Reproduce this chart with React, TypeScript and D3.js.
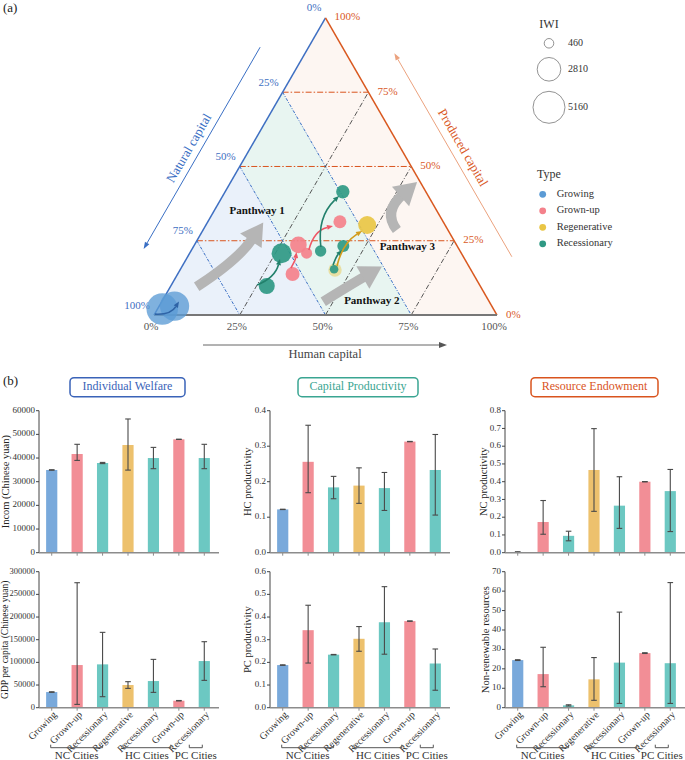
import * as d3 from "d3";

const FONT = "'Liberation Serif', 'Times New Roman', serif";

// ---- city types ----
const TYPES = ["Growing", "Grown-up", "Regenerative", "Recessionary"];
const TYPE_COLORS: Record<string, string> = {
  Growing: "#5b9bd5",
  "Grown-up": "#f4818b",
  Regenerative: "#e9c545",
  Recessionary: "#2f9984",
};
const ARROW_COLORS: Record<string, string> = {
  Growing: "#2e63a6",
  "Grown-up": "#ef5766",
  Regenerative: "#d29c1c",
  Recessionary: "#22806c",
};
const BAR_COLORS: Record<string, string> = {
  Growing: "#79a9db",
  "Grown-up": "#f28e96",
  Regenerative: "#edc16d",
  Recessionary: "#6cc8c2",
};

// ---- ternary (a) ----
const TERNARY_TICKS = [0, 0.25, 0.5, 0.75, 1];
const IWI_LEGEND = [460, 2810, 5160];

// city clusters: human capital share, produced capital share, IWI
const NODE_TYPE = [
  "Growing", "Growing", "Recessionary", "Recessionary", "Grown-up", "Grown-up", "Grown-up",
  "Grown-up", "Recessionary", "Recessionary", "Regenerative", "Recessionary", "Recessionary", "Regenerative",
];
const NODE_HC = [0.014, 0.045, 0.28, 0.268, 0.335, 0.303, 0.341, 0.385, 0.378, 0.343, 0.452, 0.448, 0.436, 0.47];
const NODE_PC = [0.02, 0.03, 0.0976, 0.208, 0.138, 0.236, 0.208, 0.314, 0.2155, 0.415, 0.1515, 0.154, 0.232, 0.303];
const NODE_IWI = [5000, 4300, 1290, 2010, 985, 1385, 610, 850, 650, 900, 900, 370, 725, 1630];
const FADED_NODES = new Set([10]);

// trajectories between periods
const TRAJ_TYPE = ["Growing", "Recessionary", "Grown-up", "Grown-up", "Recessionary", "Recessionary", "Regenerative"];
const TRAJ_FROM_HC = [0.001, 0.25, 0.32, 0.342, 0.372, 0.438, 0.451];
const TRAJ_FROM_PC = [0.003, 0.101, 0.158, 0.219, 0.229, 0.168, 0.165];
const TRAJ_TO_HC = [0.05, 0.273, 0.3095, 0.372, 0.339, 0.439, 0.465];
const TRAJ_TO_PC = [0.0455, 0.1886, 0.212, 0.2997, 0.4007, 0.219, 0.283];
const TRAJ_BEND = [0.3, 0.25, 0.1, -0.3, -0.25, -0.1, -0.2];

// development pathways (tail, control, tip) as [HC, PC]
const PATHWAYS = ["Panthway 1", "Panthway 2", "Panthway 3"];
const PATHWAY_TAIL = [[0.077, 0.095], [0.471, 0.045], [0.565, 0.286]];
const PATHWAY_CTRL = [[0.152, 0.185], [0.521, 0.101], [0.494, 0.347]];
const PATHWAY_TIP = [[0.163, 0.311], [0.583, 0.163], [0.543, 0.448]];
const PATHWAY_LABEL = [[0.127, 0.347], [0.613, 0.044], [0.624, 0.229]];

// ---- bars (b) ----
const BAR_CATS = ["Growing", "Grown-up", "Recessionary", "Regenerative", "Recessionary", "Grown-up", "Recessionary"];
const CITY_GROUPS = ["NC Cities", "HC Cities", "PC Cities"];
const GROUP_FIRST = [0, 3, 6];
const GROUP_LAST = [2, 5, 6];

const INCOME_MEAN = [34950, 41700, 37900, 45500, 40000, 47900, 40000];
const INCOME_LO = [34850, 39000, 37650, 34900, 35500, 47850, 35500];
const INCOME_HI = [35050, 45800, 38150, 56500, 44500, 47950, 45800];

const GDP_MEAN = [34500, 94100, 95600, 50000, 58800, 15400, 102900];
const GDP_LO = [33900, 7300, 24300, 42600, 33800, 14900, 60300];
const GDP_HI = [35100, 275700, 166200, 57400, 106600, 15900, 145600];

const HC_MEAN = [0.122, 0.256, 0.184, 0.189, 0.182, 0.313, 0.233];
const HC_LO = [0.1215, 0.169, 0.152, 0.139, 0.119, 0.3125, 0.106];
const HC_HI = [0.1225, 0.359, 0.215, 0.239, 0.226, 0.3135, 0.333];

const PC_MEAN = [0.188, 0.342, 0.234, 0.304, 0.377, 0.382, 0.195];
const PC_LO = [0.187, 0.197, 0.233, 0.249, 0.236, 0.381, 0.077];
const PC_HI = [0.189, 0.452, 0.235, 0.358, 0.534, 0.383, 0.259];

const NC_MEAN = [0.004, 0.173, 0.095, 0.466, 0.265, 0.4, 0.347];
const NC_LO = [0.003, 0.104, 0.067, 0.233, 0.137, 0.399, 0.119];
const NC_HI = [0.005, 0.294, 0.121, 0.699, 0.428, 0.401, 0.469];

const NRR_MEAN = [24.5, 17.3, 1.2, 14.6, 23.2, 28.1, 22.9];
const NRR_LO = [24.3, 10.8, 0.9, 3.8, 2.2, 27.9, 2.2];
const NRR_HI = [24.7, 31.1, 1.5, 25.8, 49.2, 28.3, 64.4];

const PANEL_TITLES = ["Individual Welfare", "Capital Productivity", "Resource Endowment"];
const PANEL_TITLE_COLORS = ["#3a63b8", "#3aa592", "#d9541e"];

// ---- layout ----
const TRI = { x0: 154, y0: 315, side: 343 };
const H3 = Math.sqrt(3) / 2;
const proj = (h: number, p: number): [number, number] => [
  TRI.x0 + TRI.side * (h + p / 2),
  TRI.y0 - TRI.side * H3 * p,
];

const COL_X0 = [39, 270, 505];
const COL_W = 178;
const ROWS = [
  { top: 410.7, bottom: 552.7 },
  { top: 571.7, bottom: 707.7 },
];
const TITLE_BOX = [
  [70, 185],
  [298, 418],
  [531, 658],
];

const polyStr = (pts: [number, number][]) => pts.map((p) => p.join(",")).join(" ");

function arrowHead(tip: [number, number], from: [number, number], len: number, w: number) {
  const dx = tip[0] - from[0];
  const dy = tip[1] - from[1];
  const l = Math.hypot(dx, dy) || 1;
  const ux = dx / l;
  const uy = dy / l;
  const bx = tip[0] - ux * len;
  const by = tip[1] - uy * len;
  const pts: [number, number][] = [
    tip,
    [bx - (uy * w) / 2, by + (ux * w) / 2],
    [bx + (uy * w) / 2, by - (ux * w) / 2],
  ];
  return { base: [bx, by] as [number, number], pts };
}

function Ternary() {
  const r = d3.scaleSqrt().domain([0, 5160]).range([0, 16]);
  const BL = proj(0, 0);
  const BR = proj(1, 0);
  const TOP = proj(0, 1);

  const grid = [0.25, 0.5, 0.75];

  // offset line parallel to an edge
  const edgeLine = (a: [number, number], b: [number, number], nx: number, ny: number, s0: number, s1: number, off: number) => {
    const dx = (b[0] - a[0]) / TRI.side;
    const dy = (b[1] - a[1]) / TRI.side;
    return [
      [a[0] + dx * s0 + nx * off, a[1] + dy * s0 + ny * off],
      [a[0] + dx * s1 + nx * off, a[1] + dy * s1 + ny * off],
    ] as [number, number][];
  };

  const natLine = edgeLine(BL, TOP, -H3, -0.5, 285, 52, 42);
  const natLbl = edgeLine(BL, TOP, -H3, -0.5, 162, 162, 52)[0];
  const prodLine = edgeLine(BR, TOP, H3, -0.5, 43, 278, 42);
  const prodLbl = edgeLine(BR, TOP, H3, -0.5, 162, 162, 53)[0];
  const natHead = arrowHead(natLine[1], natLine[0], 7, 5);
  const prodHead = arrowHead(prodLine[1], prodLine[0], 7, 5);
  const humY = TRI.y0 + 30;
  const humX0 = TRI.x0 + 49;
  const humX1 = TRI.x0 + 293;

  return (
    <g fontFamily={FONT}>
      <text x={3} y={12} fontSize={13} fill="#222">(a)</text>

      {/* regions */}
      <polygon points={polyStr([proj(0, 0.75), TOP, BR, proj(0.75, 0)])} fill="#fdf6f2" />
      <polygon points={polyStr([proj(0, 0.5), proj(0, 0.75), proj(0.75, 0), proj(0.5, 0)])} fill="#e8f5f1" />
      <polygon points={polyStr([BL, proj(0, 0.5), proj(0.5, 0)])} fill="#eaf1fa" />

      {/* grid */}
      {grid.map((t) => {
        const a = proj(0, t);
        const b = proj(1 - t, t);
        return <line key={"p" + t} x1={a[0]} y1={a[1]} x2={b[0]} y2={b[1]} stroke="#d9541e" strokeWidth={1} strokeDasharray="6,2,1.5,2" />;
      })}
      {grid.map((t) => {
        const a = proj(0, 1 - t);
        const b = proj(1 - t, 0);
        return <line key={"n" + t} x1={a[0]} y1={a[1]} x2={b[0]} y2={b[1]} stroke="#3a6fc4" strokeWidth={1} strokeDasharray="3,1.5,1,1.5" />;
      })}
      {grid.map((t) => {
        const a = proj(t, 0);
        const b = proj(t, 1 - t);
        return <line key={"h" + t} x1={a[0]} y1={a[1]} x2={b[0]} y2={b[1]} stroke="#444" strokeWidth={0.9} strokeDasharray="5,2,1,2" />;
      })}

      {/* edges */}
      <line x1={BL[0]} y1={BL[1]} x2={TOP[0]} y2={TOP[1]} stroke="#3e6fc2" strokeWidth={1.5} />
      <line x1={BR[0]} y1={BR[1]} x2={TOP[0]} y2={TOP[1]} stroke="#d9581f" strokeWidth={1.5} />
      <line x1={BL[0]} y1={BL[1]} x2={BR[0]} y2={BR[1]} stroke="#777" strokeWidth={2} />

      {/* tick labels */}
      {TERNARY_TICKS.map((v) => {
        const [x, y] = proj(0, 1 - v);
        return (
          <text key={"nl" + v} x={x - 4} y={y - 9} fontSize={11} fill="#3e6fc2" textAnchor="end" dominantBaseline="middle">
            {Math.round(v * 100)}%
          </text>
        );
      })}
      {TERNARY_TICKS.map((v) => {
        const [x, y] = proj(1 - v, v);
        return (
          <text key={"pl" + v} x={x + 9} y={y} fontSize={11} fill="#d9581f" dominantBaseline="middle">
            {Math.round(v * 100)}%
          </text>
        );
      })}
      {TERNARY_TICKS.map((v) => {
        const [x] = proj(v, 0);
        return (
          <text key={"hl" + v} x={x - 3} y={TRI.y0 + 12} fontSize={11} fill="#555" textAnchor="middle" dominantBaseline="middle">
            {Math.round(v * 100)}%
          </text>
        );
      })}

      {/* axis titles */}
      <line x1={natLine[0][0]} y1={natLine[0][1]} x2={natHead.base[0]} y2={natHead.base[1]} stroke="#3a6fc4" strokeWidth={1} />
      <polygon points={polyStr(natHead.pts)} fill="#3a6fc4" />
      <text transform={`translate(${natLbl[0]},${natLbl[1]}) rotate(-60)`} fontSize={13} fill="#3a6fc4" textAnchor="middle" dominantBaseline="middle">
        Natural capital
      </text>
      <line x1={prodLine[0][0]} y1={prodLine[0][1]} x2={prodHead.base[0]} y2={prodHead.base[1]} stroke="#eba27e" strokeWidth={1} />
      <polygon points={polyStr(prodHead.pts)} fill="#eba27e" />
      <text transform={`translate(${prodLbl[0]},${prodLbl[1]}) rotate(60)`} fontSize={13} fill="#d9581f" textAnchor="middle" dominantBaseline="middle">
        Produced capital
      </text>
      <line x1={humX0} y1={humY} x2={humX1 - 7} y2={humY} stroke="#666" strokeWidth={1} />
      <polygon points={polyStr([[humX1, humY], [humX1 - 8, humY - 3], [humX1 - 8, humY + 3]])} fill="#555" />
      <text x={(humX0 + humX1) / 2} y={humY + 10} fontSize={12.5} fill="#444" textAnchor="middle" dominantBaseline="middle">
        Human capital
      </text>

      {/* pathway arrows */}
      {PATHWAYS.map((name, i) => {
        const tail = proj(PATHWAY_TAIL[i][0], PATHWAY_TAIL[i][1]);
        const ctrl = proj(PATHWAY_CTRL[i][0], PATHWAY_CTRL[i][1]);
        const tip = proj(PATHWAY_TIP[i][0], PATHWAY_TIP[i][1]);
        const head = arrowHead(tip, ctrl, 22, 26);
        const p = d3.path();
        p.moveTo(tail[0], tail[1]);
        p.quadraticCurveTo(ctrl[0], ctrl[1], head.base[0] + (tip[0] - head.base[0]) * 0.1, head.base[1] + (tip[1] - head.base[1]) * 0.1);
        return (
          <g key={name}>
            <path d={p.toString()} fill="none" stroke="#b5b5b5" strokeWidth={10} />
            <polygon points={polyStr(head.pts)} fill="#b5b5b5" />
          </g>
        );
      })}

      {/* city bubbles */}
      {NODE_TYPE.map((t, i) => {
        const [x, y] = proj(NODE_HC[i], NODE_PC[i]);
        return (
          <circle
            key={"n" + i}
            cx={x}
            cy={y}
            r={r(NODE_IWI[i])}
            fill={TYPE_COLORS[t]}
            fillOpacity={FADED_NODES.has(i) ? 0.45 : t === "Growing" ? 0.78 : 0.92}
          />
        );
      })}

      {/* trajectories */}
      {TRAJ_TYPE.map((t, i) => {
        const a = proj(TRAJ_FROM_HC[i], TRAJ_FROM_PC[i]);
        const b = proj(TRAJ_TO_HC[i], TRAJ_TO_PC[i]);
        const dx = b[0] - a[0];
        const dy = b[1] - a[1];
        const c: [number, number] = [(a[0] + b[0]) / 2 - dy * TRAJ_BEND[i], (a[1] + b[1]) / 2 + dx * TRAJ_BEND[i]];
        const head = arrowHead(b, c, 6, 5);
        const p = d3.path();
        p.moveTo(a[0], a[1]);
        p.quadraticCurveTo(c[0], c[1], head.base[0], head.base[1]);
        return (
          <g key={"t" + i}>
            <path d={p.toString()} fill="none" stroke={ARROW_COLORS[t]} strokeWidth={1.6} />
            <polygon points={polyStr(head.pts)} fill={ARROW_COLORS[t]} />
          </g>
        );
      })}

      {PATHWAYS.map((name, i) => {
        const [x, y] = proj(PATHWAY_LABEL[i][0], PATHWAY_LABEL[i][1]);
        return (
          <text key={"pl" + i} x={x} y={y} fontSize={11} fontWeight="bold" fill="#111" textAnchor="middle" dominantBaseline="middle">
            {name}
          </text>
        );
      })}

      {/* legends */}
      <text x={549} y={25} fontSize={12} fill="#333" textAnchor="middle" dominantBaseline="middle">IWI</text>
      {IWI_LEGEND.map((v, i) => {
        const cy = [43.3, 69.3, 107.3][i];
        return (
          <g key={"iwi" + v}>
            <circle cx={549} cy={cy} r={r(v)} fill="none" stroke="#777" strokeWidth={0.8} />
            <text x={568} y={cy} fontSize={10} fill="#333" dominantBaseline="middle">{v}</text>
          </g>
        );
      })}
      <text x={537} y={175} fontSize={12} fill="#333" dominantBaseline="middle">Type</text>
      {TYPES.map((t, i) => (
        <g key={"lt" + t}>
          <circle cx={542.7} cy={194.3 + i * 16.5} r={3.4} fill={TYPE_COLORS[t]} />
          <text x={556.7} y={194.3 + i * 16.5} fontSize={10.5} fill="#333" dominantBaseline="middle">{t}</text>
        </g>
      ))}
    </g>
  );
}

type PanelProps = {
  col: number;
  row: number;
  mean: number[];
  lo: number[];
  hi: number[];
  max: number;
  step: number;
  fmt: (v: number) => string;
  label: string;
  labelX: number;
  labelSize?: number;
  tickSize?: number;
};

function BarPanel({ col, row, mean, lo, hi, max, step, fmt, label, labelX, labelSize = 10.5, tickSize = 9 }: PanelProps) {
  const x0 = COL_X0[col];
  const { top, bottom } = ROWS[row];
  const x = d3.scaleBand<number>().domain(d3.range(BAR_CATS.length)).range([x0, x0 + COL_W]).paddingInner(0.56).paddingOuter(0.28);
  const y = d3.scaleLinear().domain([0, max]).range([bottom, top]);
  const ticks = d3.range(0, max + step / 2, step);
  const bw = x.bandwidth();
  const cx = (i: number) => (x(i) ?? 0) + bw / 2;
  const groupOffsets = [
    [-1, 0],
    [-5, -8],
    [-15, -2],
  ];

  return (
    <g fontFamily={FONT}>
      {mean.map((m, i) => (
        <rect key={"b" + i} x={x(i)} y={y(m)} width={bw} height={bottom - y(m)} fill={BAR_COLORS[BAR_CATS[i]]} />
      ))}
      {mean.map((_, i) => (
        <g key={"e" + i} stroke="#4a4a4a" strokeWidth={1.1}>
          <line x1={cx(i)} x2={cx(i)} y1={y(lo[i])} y2={y(hi[i])} />
          <line x1={cx(i) - 2.8} x2={cx(i) + 2.8} y1={y(lo[i])} y2={y(lo[i])} />
          <line x1={cx(i) - 2.8} x2={cx(i) + 2.8} y1={y(hi[i])} y2={y(hi[i])} />
        </g>
      ))}

      {/* y axis */}
      <line x1={x0} x2={x0} y1={top} y2={bottom} stroke="#444" strokeWidth={1} />
      {ticks.map((t) => (
        <g key={"t" + t}>
          <line x1={x0 - 3} x2={x0} y1={y(t)} y2={y(t)} stroke="#444" strokeWidth={1} />
          <text x={x0 - 4} y={y(t)} fontSize={tickSize} fill="#333" textAnchor="end" dominantBaseline="middle">
            {fmt(t)}
          </text>
        </g>
      ))}
      <text transform={`translate(${labelX},${(top + bottom) / 2}) rotate(-90)`} fontSize={labelSize} fill="#222" textAnchor="middle" dominantBaseline="middle">
        {label}
      </text>

      {/* x axis */}
      <line x1={x0} x2={x0 + COL_W + 2} y1={bottom} y2={bottom} stroke="#8c8c8c" strokeWidth={1.6} />
      {BAR_CATS.map((_, i) => (
        <line key={"xt" + i} x1={cx(i)} x2={cx(i)} y1={bottom} y2={bottom + 3} stroke="#8c8c8c" strokeWidth={1} />
      ))}

      {row === 1 &&
        BAR_CATS.map((c, i) => (
          <text
            key={"c" + i}
            transform={`translate(${cx(i) + 4},${bottom + 6}) rotate(-45)`}
            fontSize={10}
            fill="#333"
            textAnchor="end"
            dominantBaseline="middle"
          >
            {c}
          </text>
        ))}
      {row === 1 &&
        CITY_GROUPS.map((g, gi) => {
          const a = cx(GROUP_FIRST[gi]) + groupOffsets[gi][0];
          const b = cx(GROUP_LAST[gi]) + groupOffsets[gi][1];
          const by = bottom + 40;
          return (
            <g key={g}>
              <path d={`M${a},${by - 3}V${by}H${b}V${by - 3}`} fill="none" stroke="#555" strokeWidth={1} />
              <text x={(a + b) / 2} y={by + 8.5} fontSize={11} fill="#333" textAnchor="middle" dominantBaseline="middle">
                {g}
              </text>
            </g>
          );
        })}
    </g>
  );
}

export default function App() {
  const f0 = d3.format("d");
  const f1 = d3.format(".1f");
  return (
    <svg width={685} height={760} style={{ position: "absolute", left: 0, top: 0, background: "#fff" }}>
      <Ternary />

      <text x={3} y={382} fontSize={13} fill="#222" fontFamily={FONT} dominantBaseline="middle">(b)</text>
      {PANEL_TITLES.map((t, i) => (
        <g key={t} fontFamily={FONT}>
          <rect x={TITLE_BOX[i][0]} y={377.7} width={TITLE_BOX[i][1] - TITLE_BOX[i][0]} height={19} rx={4} fill="#fff" stroke={PANEL_TITLE_COLORS[i]} strokeWidth={1.5} />
          <text x={(TITLE_BOX[i][0] + TITLE_BOX[i][1]) / 2} y={387.5} fontSize={12} fill={PANEL_TITLE_COLORS[i]} textAnchor="middle" dominantBaseline="middle">
            {t}
          </text>
        </g>
      ))}

      <BarPanel col={0} row={0} mean={INCOME_MEAN} lo={INCOME_LO} hi={INCOME_HI} max={60000} step={10000} fmt={f0} label="Incom (Chinese yuan)" labelX={6.5} />
      <BarPanel col={0} row={1} mean={GDP_MEAN} lo={GDP_LO} hi={GDP_HI} max={300000} step={50000} fmt={f0} label="GDP  per capita (Chinese yuan)" labelX={6} labelSize={9.5} tickSize={8.5} />
      <BarPanel col={1} row={0} mean={HC_MEAN} lo={HC_LO} hi={HC_HI} max={0.4} step={0.1} fmt={f1} label="HC productivity" labelX={249} />
      <BarPanel col={1} row={1} mean={PC_MEAN} lo={PC_LO} hi={PC_HI} max={0.6} step={0.1} fmt={f1} label="PC productivity" labelX={249} />
      <BarPanel col={2} row={0} mean={NC_MEAN} lo={NC_LO} hi={NC_HI} max={0.8} step={0.1} fmt={f1} label="NC productivity" labelX={485} />
      <BarPanel col={2} row={1} mean={NRR_MEAN} lo={NRR_LO} hi={NRR_HI} max={70} step={10} fmt={f0} label="Non-renewable resources" labelX={487} />
    </svg>
  );
}
